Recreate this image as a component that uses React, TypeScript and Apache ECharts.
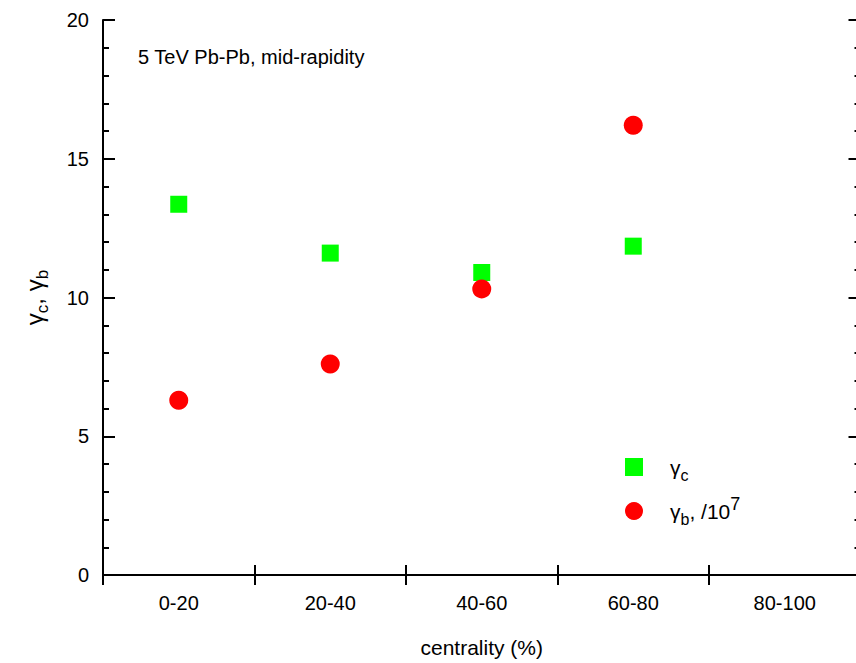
import React, { useEffect, useRef } from "react";
import * as echarts from "echarts";

const categories = ["0-20", "20-40", "40-60", "60-80", "80-100"];
const gammaC = [13.36, 11.6, 10.9, 11.85];
const gammaB = [6.3, 7.6, 10.31, 16.21];
const yTicks = { min: 0, max: 20, interval: 5 };
const titleText = "5 TeV Pb-Pb, mid-rapidity";
const xName = "centrality (%)";

const FONT = "'Liberation Sans', Arial, sans-serif";

export default function App() {
  const ref = useRef<HTMLDivElement>(null);
  useEffect(() => {
    const chart = echarts.init(ref.current!, null, { renderer: "svg" });
    const axisLine = { show: true, lineStyle: { color: "#000", width: 2 } };
    const axisTick = { show: true, inside: true, length: 12, lineStyle: { color: "#000", width: 2 } };
    const minorTick = { show: true, splitNumber: 5, length: 6, lineStyle: { color: "#000", width: 2 } };
    const xTick = { show: true, inside: true, length: 10, lineStyle: { color: "#000", width: 2 } };
    chart.setOption({
      animation: false,
      backgroundColor: "#fff",
      textStyle: { fontFamily: FONT, color: "#000" },
      title: {
        text: titleText,
        left: 133,
        top: 42,
        textStyle: { fontSize: 20, fontWeight: "normal", color: "#000", fontFamily: FONT },
      },
      grid: { left: 103, top: 20, bottom: 79, right: 5.5, containLabel: false },
      legend: {
        orient: "vertical",
        left: 620,
        top: 444,
        itemWidth: 18,
        itemHeight: 18,
        itemGap: 10,
        data: ["γc", "γb, /10^7"],
        formatter: (name: string) =>
          name === "γc" ? "{f|γ}{s|c}" : "{f|γ}{s|b}{g|, /10}{p|7}",
        textStyle: {
          color: "#000",
          fontFamily: FONT,
          rich: {
            f: { fontSize: 21, padding: [0, 0, 0, 22], fontFamily: FONT, color: "#000", lineHeight: 32, verticalAlign: "middle" },
            g: { fontSize: 21, fontFamily: FONT, color: "#000", lineHeight: 32, verticalAlign: "middle" },
            s: { fontSize: 16, fontFamily: FONT, color: "#000", verticalAlign: "bottom", lineHeight: 14, padding: [18, 0, 0, 0] },
            p: { fontSize: 18, fontFamily: FONT, color: "#000", verticalAlign: "top", lineHeight: 18, padding: [0, 0, 14, 0] },
          },
        },
      },
      xAxis: [
        {
          type: "category",
          data: categories,
          boundaryGap: true,
          position: "bottom",
          axisLine,
          axisTick: xTick,
          axisLabel: { fontSize: 20, color: "#000", fontFamily: FONT, margin: 18 },
          name: xName,
          nameLocation: "middle",
          nameGap: 62,
          nameTextStyle: { fontSize: 21, color: "#000", fontFamily: FONT },
        },
        {
          type: "category",
          data: categories,
          boundaryGap: true,
          position: "top",
          axisLine,
          axisTick: xTick,
          axisLabel: { show: false },
        },
      ],
      yAxis: [
        {
          type: "value",
          min: yTicks.min,
          max: yTicks.max,
          interval: yTicks.interval,
          position: "left",
          axisLine,
          axisTick,
          minorTick,
          splitLine: { show: false },
          axisLabel: { fontSize: 20, color: "#000", fontFamily: FONT, margin: 14 },
          name: "{g|γ}{s|c}{g|, γ}{s|b}",
          nameLocation: "middle",
          nameGap: 52,
          nameRotate: 90,
          nameTextStyle: {
            rich: {
              g: { fontSize: 24, fontFamily: FONT, color: "#000", lineHeight: 34, verticalAlign: "middle" },
              s: { fontSize: 17, fontFamily: FONT, color: "#000", verticalAlign: "bottom", lineHeight: 15, padding: [19, 0, 0, 0] },
            },
          },
        },
        {
          type: "value",
          min: yTicks.min,
          max: yTicks.max,
          interval: yTicks.interval,
          position: "right",
          axisLine,
          axisTick,
          minorTick,
          splitLine: { show: false },
          axisLabel: { show: false },
        },
      ],
      series: [
        {
          name: "γc",
          type: "scatter",
          symbol: "rect",
          symbolSize: 17,
          itemStyle: { color: "#00ff00", opacity: 1 },
          data: gammaC,
        },
        {
          name: "γb, /10^7",
          type: "scatter",
          symbol: "circle",
          symbolSize: 19,
          itemStyle: { color: "#ff0000", opacity: 1 },
          data: gammaB,
        },
      ],
    });
    return () => chart.dispose();
  }, []);
  return (
    <div style={{ position: "fixed", left: 0, top: 0, width: 856, height: 663, overflow: "hidden", background: "#fff" }}>
      <div ref={ref} style={{ width: 866, height: 663 }} />
    </div>
  );
}
